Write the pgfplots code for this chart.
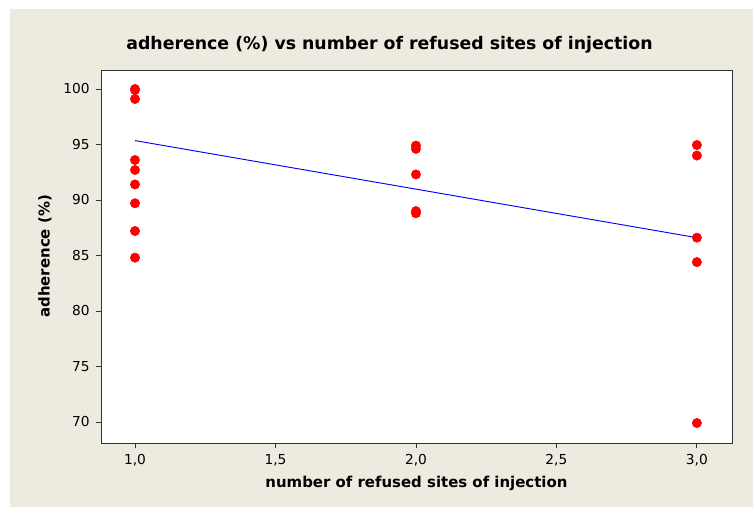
\documentclass[border=0pt]{standalone}
\usepackage{fontspec}
\setmainfont{DejaVu Sans}
\usepackage{pgfplots}
\pgfplotsset{compat=1.18}
\definecolor{beige}{RGB}{237,234,224}
\begin{document}
\begin{tikzpicture}
% background (1px = 0.75pt)
\fill[white] (-75.75pt,-48pt) rectangle (489pt,332.25pt);
\fill[beige] (-68.25pt,-48pt) rectangle (489pt,325.5pt);
\begin{axis}[
  scale only axis,
  width=473.25pt, height=279.75pt,
  xmin=0.879, xmax=3.125,
  ymin=68.1, ymax=101.71,
  axis background/.style={fill=white},
  axis line style={black!80, line width=0.6pt},
  xtick={1,1.5,2,2.5,3},
  ytick={70,75,80,85,90,95,100},
  xtick pos=bottom, ytick pos=left,
  tick align=outside,
  major tick length=4pt,
  tick style={black!80, line width=0.6pt},
  xticklabel style={/pgf/number format/.cd, use comma, fixed, fixed zerofill, precision=1},
  /pgf/number format/assume math mode=true,
  ticklabel style={font=\fontsize{10.3}{12}\selectfont, text=black},
  xticklabel shift=1pt,
  yticklabel shift=1pt,
  clip=false,
]
\addplot[only marks, mark=*, mark size=3.5pt, color=red, mark options={fill=red, draw=red}] coordinates {
(1,100) (1,99.9) (1,99.1) (1,93.6) (1,92.7) (1,91.4) (1,89.7) (1,87.2) (1,84.8)
(2,94.9) (2,94.6) (2,92.3) (2,89.0) (2,88.8)
(3,94.95) (3,94.0) (3,86.6) (3,84.4) (3,69.9)
};
\addplot[blue, line width=0.7pt] coordinates {(1,95.35) (3,86.6)};
\end{axis}
\node[font=\fontsize{13}{15}\selectfont\bfseries] at (216.4pt,298.5pt) {adherence (\%) vs number of refused sites of injection};
\node[font=\fontsize{11.2}{13}\selectfont\bfseries] at (236.6pt,-30pt) {number of refused sites of injection};
\node[font=\fontsize{11.2}{13}\selectfont\bfseries, rotate=90] at (-42pt,140pt) {adherence (\%)};
\end{tikzpicture}
\end{document}
